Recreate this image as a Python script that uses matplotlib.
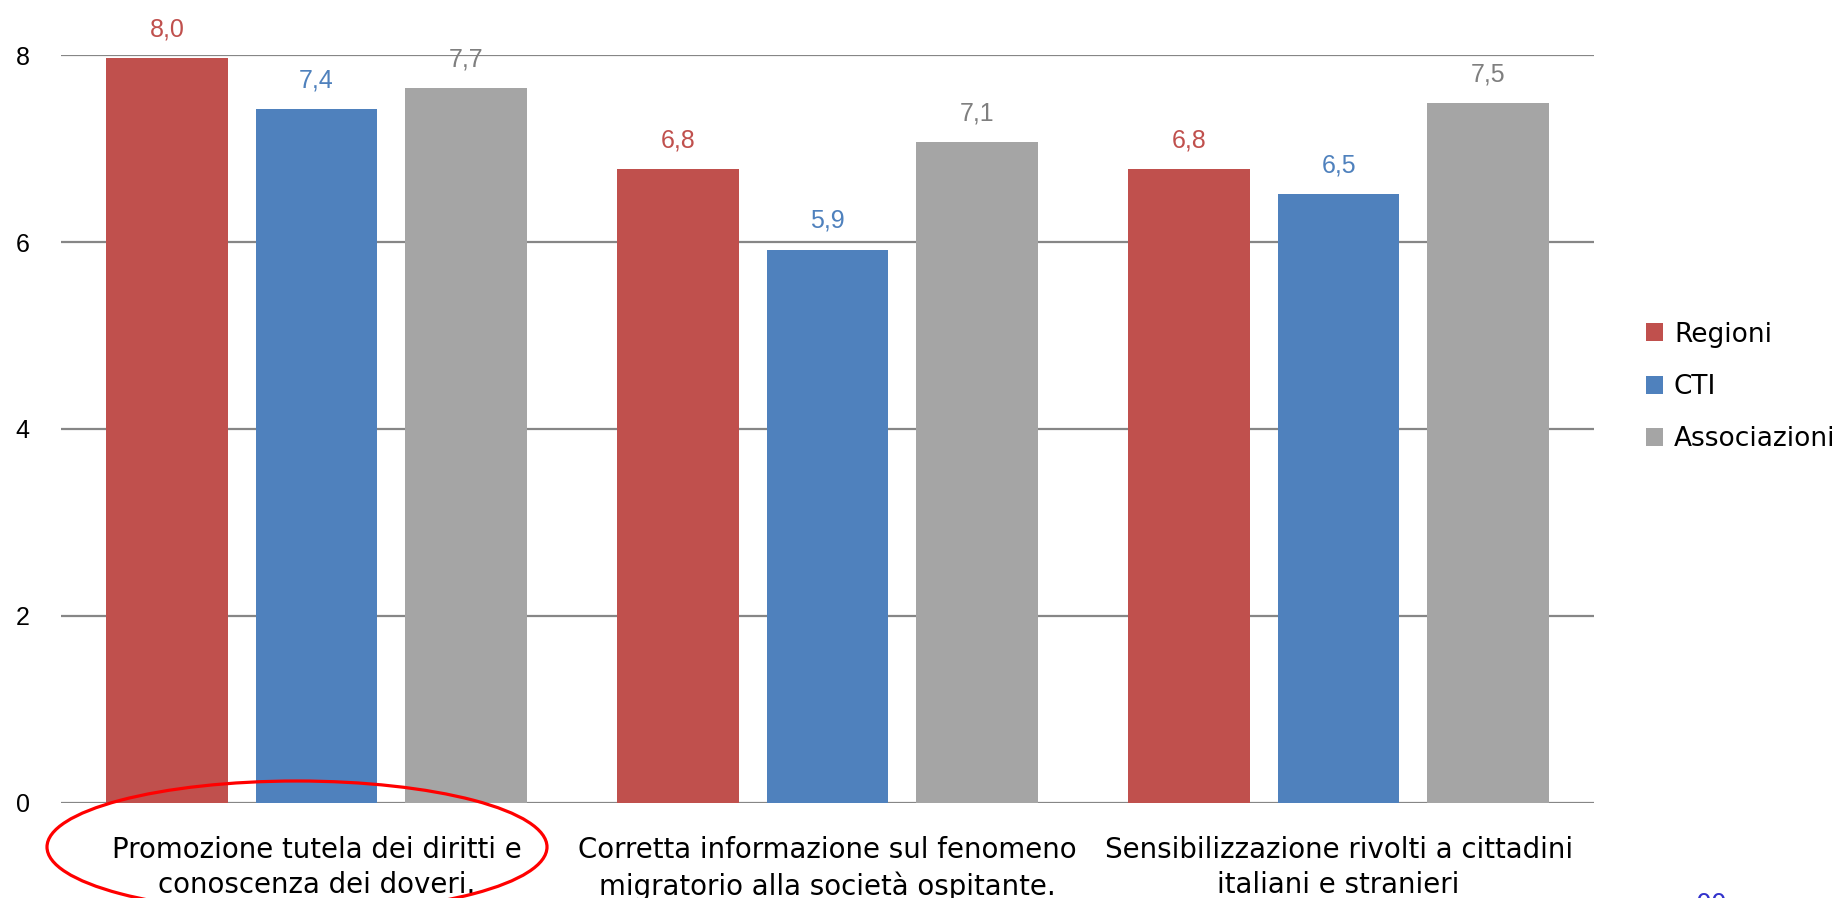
import numpy as np
import matplotlib
matplotlib.use("Agg")
from matplotlib import pyplot as plt
from matplotlib.patches import Ellipse

categories = ["Promozione tutela dei diritti e\nconoscenza dei doveri.",
              "Corretta informazione sul fenomeno\nmigratorio alla società ospitante.",
              "Sensibilizzazione rivolti a cittadini\nitaliani e stranieri"]
series = ["Regioni", "CTI", "Associazioni"]
regioni = [7.97, 6.78, 6.78]
cti = [7.42, 5.92, 6.51]
associazioni = [7.65, 7.07, 7.49]

colors = ["#C0504D", "#4F81BD", "#A5A5A5"]
label_colors = ["#C0504D", "#4F81BD", "#7F7F7F"]
font = ["Liberation Sans", "DejaVu Sans"]

fig = plt.figure(figsize=(18.45, 8.98), dpi=100)
ax = fig.add_axes([0.0331, 0.1063, 0.8309, 0.8321])

x = np.arange(len(categories))
width = 0.238
step = 0.293
for i, (vals, name) in enumerate(zip([regioni, cti, associazioni], series)):
    bars = ax.bar(x + (i - 1) * step, vals, width, color=colors[i], label=name, zorder=3)
    labels = [f"{v:.1f}".replace(".", ",") for v in vals]
    ax.bar_label(bars, labels=labels, padding=12, color=label_colors[i],
                 fontsize=18, family=font, clip_on=False)

ax.set_xlim(-0.5, 2.5)
ax.set_ylim(0, 8)
ax.set_yticks([0, 2, 4, 6, 8])
ax.set_yticklabels(["0", "2", "4", "6", "8"], fontsize=18, family=font)
ax.yaxis.grid(True, color="#868686", linewidth=1.6, zorder=0)
ax.set_axisbelow(True)
for s in ax.spines.values():
    s.set_visible(False)
ax.tick_params(axis="both", length=0)
ax.tick_params(axis="y", pad=22.5)
ax.set_xticks(x)
ax.set_xticklabels(categories, fontsize=19.9, family="DejaVu Sans", linespacing=1.33)
ax.tick_params(axis="x", pad=24)

leg = fig.legend(loc="center left", bbox_to_anchor=(1646 / 1845, 1 - 387 / 898),
                 frameon=False, fontsize=19, handlelength=0.66, handleheight=0.66,
                 handletextpad=0.4, labelspacing=1.0, borderpad=0, borderaxespad=0)

# red ellipse around the first category
ell = Ellipse((297 / 1845, 1 - 847 / 898), 500 / 1845, 132 / 898,
              transform=fig.transFigure, fill=False, edgecolor="#FF0000",
              linewidth=2.3, clip_on=False)
fig.add_artist(ell)

fig.text(1695 / 1845, 1 - 892 / 898, "00", color="#3333CC", fontsize=18,
         ha="left", va="top")

fig.savefig("out.png", dpi=100)
